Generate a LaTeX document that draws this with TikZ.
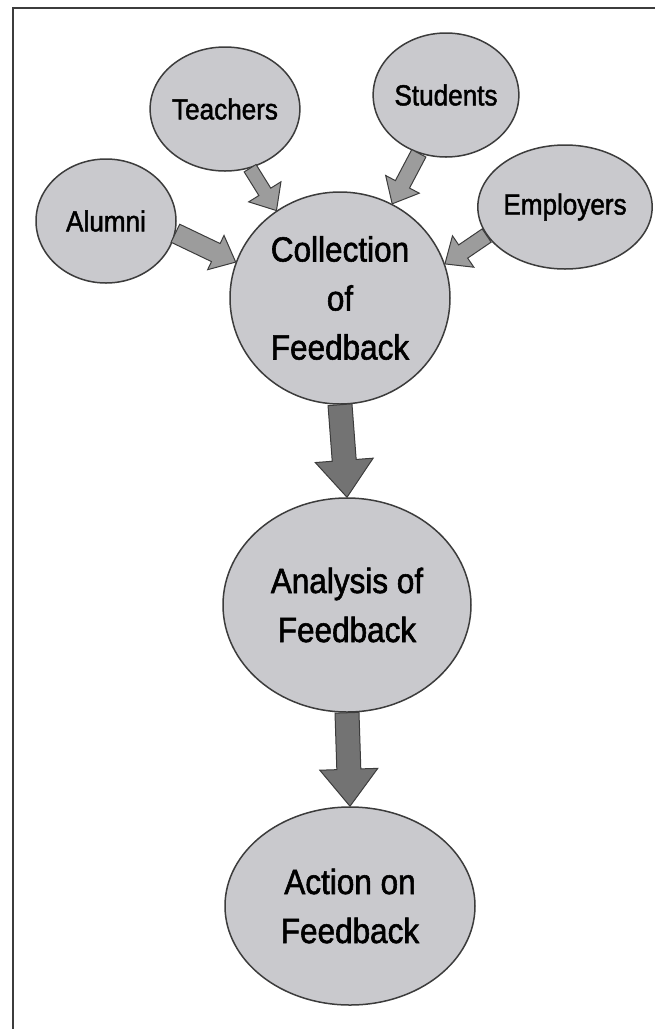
\documentclass[tikz,border=0pt]{standalone}
\usepackage{fontspec}
\setmainfont[FakeStretch=0.9]{Liberation Sans}
\newfontfamily\labelfont[FakeStretch=0.9,FakeBold=1.6]{Liberation Sans}
\usetikzlibrary{shapes.geometric,calc}

\definecolor{bubble}{HTML}{C9C9CD}
\definecolor{rim}{HTML}{3C3C3C}
\definecolor{lightarrow}{HTML}{9C9C9C}
\definecolor{darkarrow}{HTML}{737373}

\tikzset{
  source/.style={ellipse, draw=rim, line width=1.5pt, fill=bubble, minimum width=140pt,
    minimum height=124pt, inner sep=0pt, font=\labelfont\fontsize{29}{34}\selectfont},
  stage/.style={ellipse, draw=rim, line width=1.5pt, fill=bubble, inner sep=0pt,
    align=center, font=\labelfont\fontsize{35}{49}\selectfont},
  % block arrow: shaft half width, head half width, head length
  fat arrow/.style n args={3}{draw=rim, line width=1pt, line join=miter, to path={
    let \p1=(\tikztostart), \p2=(\tikztotarget),
        \n1={atan2(\y2-\y1,\x2-\x1)}, \n2={veclen(\x2-\x1,\y2-\y1)-#3pt} in
    ($(\p1)+(\n1+90:#1pt)$) -- ($(\p1)+(\n1:\n2)+(\n1+90:#1pt)$)
    -- ($(\p1)+(\n1:\n2)+(\n1+90:#2pt)$) -- (\p2)
    -- ($(\p1)+(\n1:\n2)+(\n1-90:#2pt)$) -- ($(\p1)+(\n1:\n2)+(\n1-90:#1pt)$)
    -- ($(\p1)+(\n1-90:#1pt)$) -- cycle}}
}

\begin{document}
\begin{tikzpicture}[x=1pt,y=-1pt]
    \useasboundingbox (0,0) rectangle (655,1029);

    % frame (left and top only)
    \draw[rim, line width=2.5pt] (13,1029) -- (13,8) -- (655,8);

    % sources
    \node[source] (alum) at (106,221) {Alumni};
    \node[source, minimum width=142pt] (teach) at (225,109) {Teachers};
    \node[source] (stud) at (446,95) {Students};
    \node[source] (empl) at (565,207) {Employers};

    % stages
    \node[stage, minimum width=220pt, minimum height=212pt] (coll) at (340,298) {Collection\\of\\Feedback};
    \node[stage, minimum width=248pt, minimum height=214pt] (anal) at (347,605) {Analysis of\\Feedback};
    \node[stage, minimum width=250pt, minimum height=198pt] (act) at (350,906) {Action on\\Feedback};

    % feedback flowing in
    \foreach \from/\to/\w in {alum.-10/coll.161/10, teach.-67/coll.126/7,
                              stud.-115/coll.61/8, empl.200/coll.18/8}
        \draw[fat arrow={\w}{19}{22}, fill=lightarrow] (\from) to (\to);

    % main flow
    \draw[fat arrow={12}{29}{37}, fill=darkarrow] (coll.south) to (anal.north);
    \draw[fat arrow={12}{29}{37}, fill=darkarrow] (anal.south) to (act.north);
\end{tikzpicture}
\end{document}
